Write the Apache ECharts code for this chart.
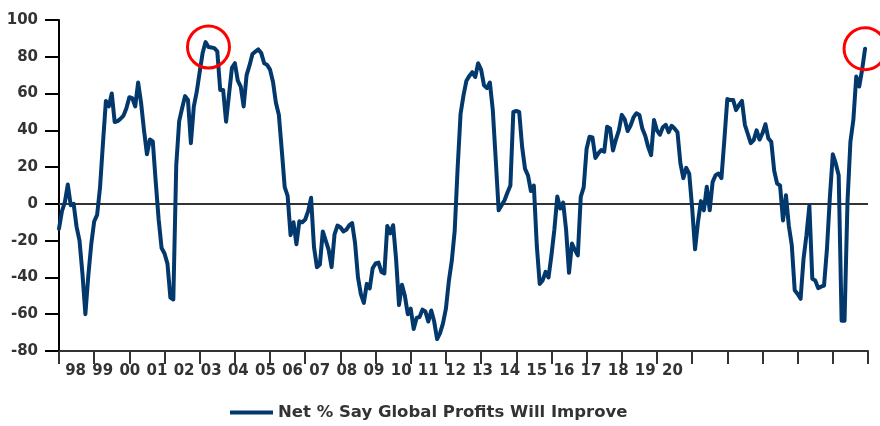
<!DOCTYPE html>
<html>
<head>
<meta charset="utf-8">
<script src="https://cdn.jsdelivr.net/npm/echarts@6/dist/echarts.min.js"></script>
<style>
  html, body { margin: 0; padding: 0; background: #ffffff; }
  #chart { width: 880px; height: 426px; }
</style>
</head>
<body>
<div id="chart"></div>
<script>
// Monthly readings, Jan 1998 – Dec 2020 (net % saying global profits will improve)
const y1998 = [-13.5, -4, 1, 10.5, -0.7, 0, -12.5, -20, -38, -60, -39, -22];
const y1999 = [-9.6, -6, 9, 33, 56, 53, 60, 44.5, 45, 46.3, 48, 52];
const y2000 = [58, 57.5, 53, 66, 55, 40, 27, 35, 34, 12, -8.5, -24];
const y2001 = [-27, -32.5, -51, -52, 21, 45, 52, 58.6, 56.5, 33, 53, 61];
const y2002 = [71.8, 82, 88, 85.3, 85, 84.7, 83, 62, 62, 44.7, 59.4, 74];
const y2003 = [76.5, 67, 63.8, 53, 70, 75.3, 81.5, 82.8, 84, 82, 76.5, 75.6];
const y2004 = [73, 66.4, 55, 48.5, 29.3, 9.1, 4.4, -17, -10, -22, -9.5, -10];
const y2005 = [-8.5, -3.9, 3.3, -23.6, -34.4, -33, -15, -20, -25, -34.4, -16.6, -11.8];
const y2006 = [-12.7, -15, -14.1, -11.7, -10.4, -21.2, -40, -49.2, -53.8, -43.5, -46, -35];
const y2007 = [-32.4, -31.9, -37, -37.8, -12, -16, -11.6, -30, -55, -44, -50, -60];
const y2008 = [-57, -68, -62, -61.5, -57.5, -58.5, -64, -58, -64, -73.5, -70.3, -65];
const y2009 = [-57, -42, -31, -14.6, 19.5, 49, 59, 67, 69.6, 71.6, 69, 76.5];
const y2010 = [73, 64.5, 63, 66, 51, 24, -3.5, -0.7, 2, 6.2, 10, 50];
const y2011 = [50.5, 50, 31, 19, 15.5, 7, 10, -22.5, -43.5, -41.6, -37, -40];
const y2012 = [-28, -14, 4, -2.5, 0.7, -14, -37.5, -21.6, -25, -28, 3.8, 9];
const y2013 = [30, 36.5, 36.1, 25, 27.5, 29.3, 28.4, 42, 41, 29, 35, 40];
const y2014 = [48.4, 46, 39.6, 42.6, 47, 49.3, 48.4, 41, 37, 31, 26.5, 45.6];
const y2015 = [40, 37.6, 41.7, 43, 39, 42.5, 41, 39, 22, 14, 19.6, 16.5];
const y2016 = [-2, -24.7, -9.8, 1.5, -3.5, 9.3, -3.5, 12, 15.6, 16.5, 14, 35];
const y2017 = [57, 56.5, 56.5, 51, 53.8, 56, 43, 38, 33, 34.7, 40, 35];
const y2018 = [38.4, 43.3, 35.6, 33.8, 18, 11, 10, -9, 4.7, -12, -22.5, -47];
const y2019 = [-49, -51.6, -30, -17, -1, -40.7, -41.6, -45.8, -45, -44.4, -24.4, 3.8];
const y2020 = [27, 22, 15.6, -63.5, -63.5, 1, 33.8, 45.6, 69.3, 63.8, 73, 84.4];

// Year labels along the bottom
const yearLabels = ['98', '99', '00', '01', '02', '03', '04', '05', '06', '07', '08',
  '09', '10', '11', '12', '13', '14', '15', '16', '17', '18', '19', '20'];

// Months whose readings are ringed in red (2002 high and the latest reading)
const highlightMonths = [51, 275];

const seriesName = 'Net % Say Global Profits Will Improve';

const monthly = [].concat(y1998, y1999, y2000, y2001, y2002, y2003, y2004, y2005,
  y2006, y2007, y2008, y2009, y2010, y2011, y2012, y2013, y2014, y2015, y2016,
  y2017, y2018, y2019, y2020);
const points = monthly.map((v, i) => [i, v]);
const totalMonths = yearLabels.length * 12;

const NAVY = '#02386C';
const TEXT = '#333333';
const FONT = 'DejaVu Sans';

const chart = echarts.init(document.getElementById('chart'), null, { renderer: 'canvas' });

chart.setOption({
  animation: false,
  backgroundColor: '#ffffff',
  grid: [
    { left: 59, right: 12, top: 20, bottom: 75, containLabel: false },
    { left: 62, width: 624, top: 20, bottom: 75, containLabel: false }
  ],
  legend: {
    data: [seriesName],
    left: 230,
    top: 404,
    padding: 0,
    icon: 'rect',
    itemWidth: 43,
    itemHeight: 4,
    textStyle: { color: TEXT, fontFamily: FONT, fontWeight: 'bold', fontSize: 16.5 }
  },
  xAxis: [
    {
      type: 'value',
      gridIndex: 0,
      min: 0,
      max: totalMonths,
      interval: 12,
      axisLine: { onZero: false, lineStyle: { color: '#333', width: 2 } },
      axisTick: { show: true, length: 13, lineStyle: { color: '#333', width: 2 } },
      axisLabel: { show: false },
      splitLine: { show: false }
    },
    {
      type: 'category',
      gridIndex: 1,
      data: yearLabels,
      boundaryGap: true,
      axisLine: { show: false, onZero: false },
      axisTick: { show: false },
      axisLabel: {
        interval: 0,
        margin: 13,
        color: TEXT,
        fontFamily: FONT,
        fontWeight: 'bold',
        fontSize: 15
      },
      splitLine: { show: false }
    }
  ],
  yAxis: [
    {
      type: 'value',
      gridIndex: 0,
      min: -80,
      max: 100,
      interval: 20,
      axisLine: { show: true, onZero: false, lineStyle: { color: '#000', width: 2 } },
      axisTick: { show: true, length: 14, lineStyle: { color: '#000', width: 2 } },
      axisLabel: {
        margin: 21,
        color: TEXT,
        fontFamily: FONT,
        fontWeight: 'bold',
        fontSize: 15
      },
      splitLine: { show: false }
    },
    {
      type: 'value',
      gridIndex: 1,
      min: -80,
      max: 100,
      show: false
    }
  ],
  series: [
    {
      name: seriesName,
      type: 'line',
      xAxisIndex: 0,
      yAxisIndex: 0,
      data: points,
      showSymbol: false,
      symbol: 'none',
      clip: false,
      color: NAVY,
      lineStyle: { color: NAVY, width: 4, join: 'round', cap: 'round' },
      z: 3,
      markLine: {
        silent: true,
        symbol: ['none', 'none'],
        label: { show: false },
        lineStyle: { color: '#333', width: 2, type: 'solid' },
        data: [{ yAxis: 0 }],
        z: 2
      },
      markPoint: {
        silent: true,
        symbol: 'circle',
        symbolSize: 42,
        label: { show: false },
        itemStyle: { color: 'rgba(0,0,0,0)', borderColor: '#ff0000', borderWidth: 3 },
        data: highlightMonths.map(m => ({ coord: [m, monthly[m]] }))
      }
    }
  ]
});
</script>
</body>
</html>
